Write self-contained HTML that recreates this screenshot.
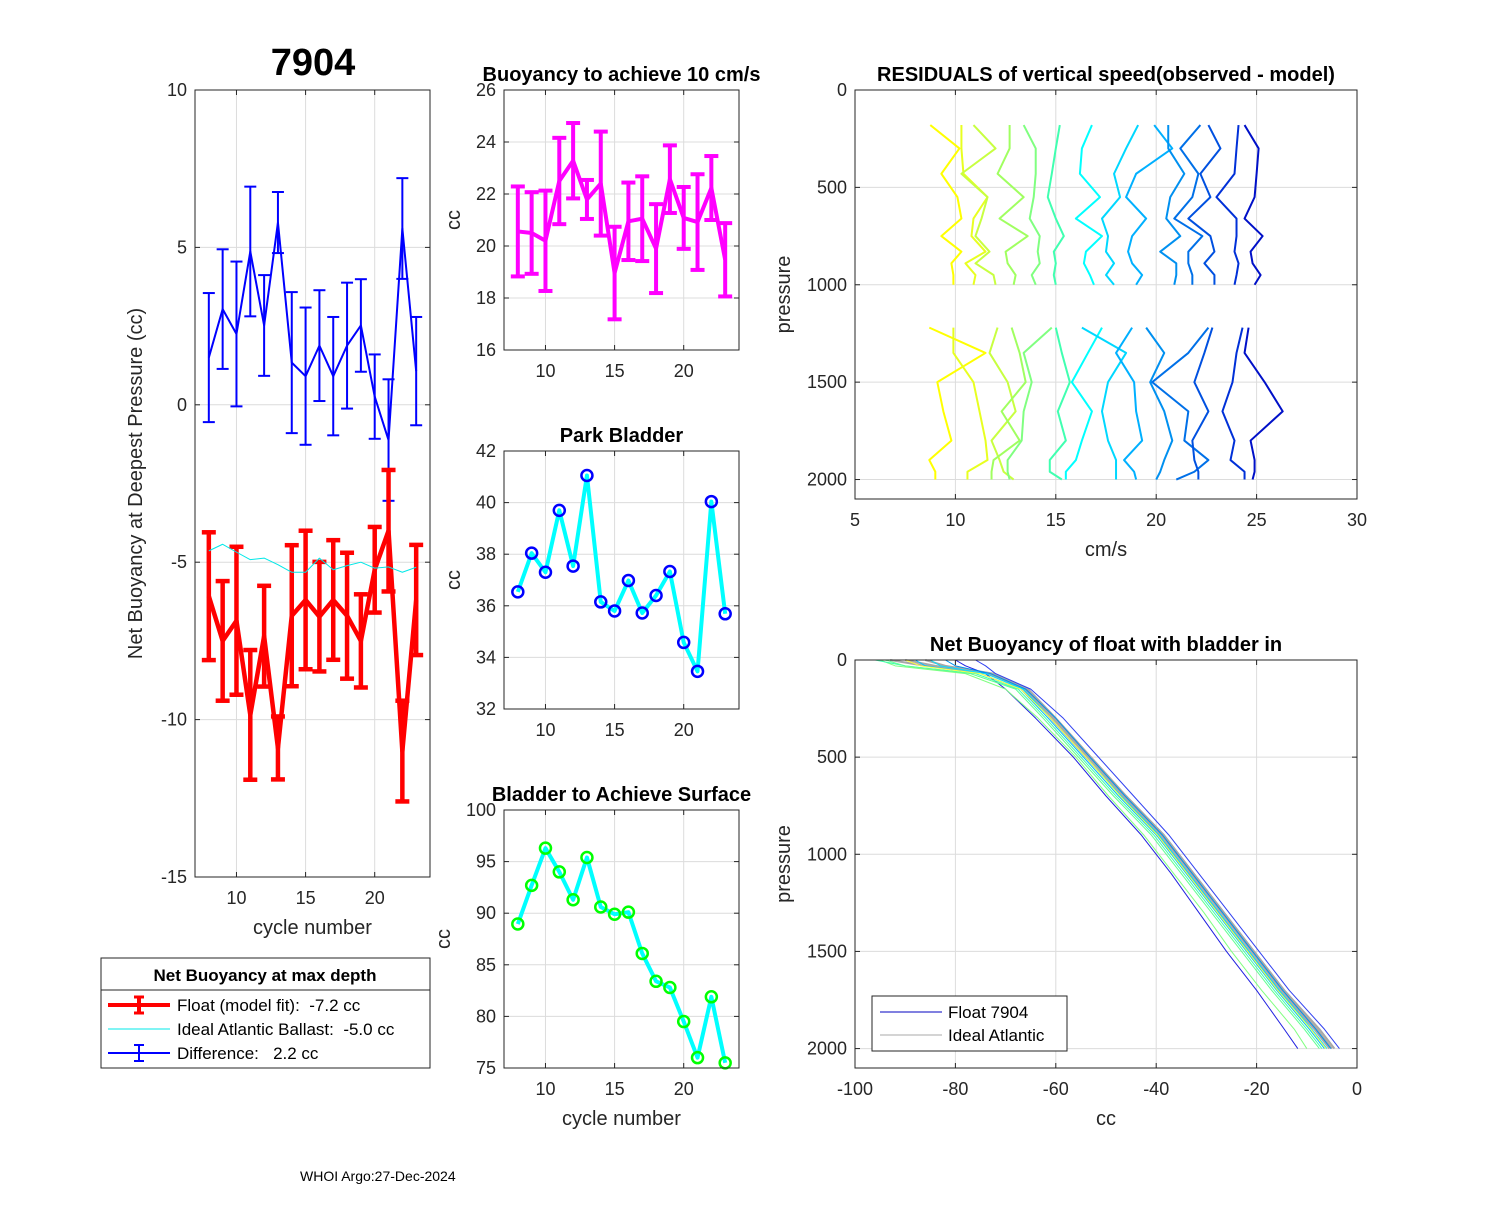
<!DOCTYPE html>
<html><head><meta charset="utf-8">
<style>
body{margin:0;background:#fff;}
svg text{font-family:"Liberation Sans",Arial,sans-serif;white-space:pre;}
</style></head>
<body>
<svg id="fig" width="1500" height="1200" viewBox="0 0 1500 1200" xmlns="http://www.w3.org/2000/svg">
<rect width="1500" height="1200" fill="#fff"/>
<text x="313" y="75" font-size="38" font-weight="bold" text-anchor="middle">7904</text>
<text x="300" y="1181" font-size="14">WHOI Argo:27-Dec-2024</text>
</svg>
<script>
// ---------- data ----------
const cycles=[8,9,10,11,12,13,14,15,16,17,18,19,20,21,22,23];
const diffVals=[1.5,3.04,2.25,4.87,2.52,5.79,1.34,0.91,1.88,0.91,1.88,2.52,0.26,-1.12,5.6,1.07];
const diffErr=[2.05,1.9,2.3,2.06,1.6,0.97,2.24,2.18,1.76,1.88,2.0,1.47,1.34,1.93,1.6,1.72];
const floatVals=[-6.08,-7.5,-6.86,-9.85,-7.35,-10.9,-6.7,-6.2,-6.73,-6.2,-6.7,-7.5,-5.24,-4.0,-11.0,-6.2];
const floatErr=[2.03,1.9,2.35,2.06,1.6,1.0,2.24,2.2,1.74,1.9,2.0,1.48,1.36,1.93,1.6,1.75];
const idealVals=[-4.64,-4.43,-4.68,-4.92,-4.87,-5.08,-5.32,-5.32,-4.87,-5.24,-5.11,-5.0,-5.19,-5.15,-5.32,-5.16];
const buoyVals=[20.56,20.5,20.2,22.5,23.28,21.79,22.4,18.96,20.95,21.05,19.9,22.57,21.08,20.92,22.23,19.47];
const buoyErr=[1.73,1.57,1.93,1.66,1.45,0.75,2.0,1.78,1.49,1.63,1.71,1.3,1.19,1.84,1.23,1.41];
const parkVals=[36.54,38.04,37.3,39.7,37.54,41.05,36.15,35.8,36.98,35.72,36.4,37.33,34.58,33.46,40.04,35.69];
const surfVals=[88.95,92.7,96.3,94.0,91.3,95.4,90.6,89.9,90.1,86.1,83.4,82.8,79.5,76.0,81.9,75.5];
// residual profiles
const resUpperP=[180,300,430,550,660,750,830,890,950,1000];
const resLowerP=[1220,1350,1500,1650,1800,1900,1960,2000];
const resUpper=[
[8.75,10.2,9.3,10.1,10.3,9.3,10.3,9.8,9.9,9.9],
[10.3,10.3,10.4,11.6,10.9,10.8,11.5,10.5,11.0,10.9],
[10.9,12.0,10.3,11.6,11.3,11.0,11.7,11.0,11.9,12.0],
[12.7,12.7,12.1,13.4,12.2,13.6,12.5,12.6,13.0,12.9],
[13.4,14.0,14.0,13.9,13.7,14.2,14.1,14.2,13.8,14.0],
[15.2,15.0,14.8,14.6,15.0,15.4,14.9,15.0,14.9,15.0],
[16.8,16.3,16.2,17.2,16.0,17.3,16.5,16.4,16.7,16.9],
[19.1,18.5,17.9,18.2,17.3,17.6,17.5,17.9,17.5,17.9],
[19.9,20.8,19.0,18.5,19.5,18.8,18.6,18.8,19.3,19.0],
[20.6,20.6,21.4,20.7,20.5,21.2,20.2,21.0,21.0,20.9],
[22.2,21.2,22.1,21.8,20.9,22.3,21.6,21.6,21.8,21.8],
[22.6,23.2,22.2,22.7,21.6,22.7,22.9,22.4,22.9,22.9],
[24.1,24.0,23.9,23.0,24.0,24.0,23.9,24.1,24.0,23.9],
[24.4,25.1,25.0,24.9,24.4,25.3,24.7,24.8,25.2,24.9]];
const resLower=[
[8.7,11.5,9.1,9.4,9.8,8.7,9.0,9.0],
[9.9,9.9,10.9,11.2,11.5,11.6,10.6,10.6],
[12.1,11.7,12.6,13.0,11.8,12.2,12.4,12.9],
[12.8,13.2,13.5,12.3,13.2,11.9,11.8,11.8],
[14.8,13.4,13.8,13.4,13.3,12.6,12.6,12.7],
[15.0,15.3,15.7,15.1,15.5,14.7,14.7,15.3],
[17.3,16.6,15.8,16.8,16.3,16.0,15.5,15.5],
[16.3,18.5,17.6,17.3,17.6,18.0,18.0,18.0],
[18.8,18.0,18.9,19.0,19.3,18.4,18.9,19.0],
[19.5,20.4,19.7,20.4,20.8,20.4,20.2,20.0],
[22.6,21.6,19.8,21.6,21.4,22.6,21.9,21.0],
[22.8,22.4,21.9,22.6,21.8,21.9,22.1,22.1],
[24.3,24.0,23.8,23.3,23.9,23.7,24.4,24.4],
[24.6,24.4,25.4,26.3,24.7,24.9,24.9,24.8]];
const resColors=['#ffff00','#e8ff20','#c8ff40','#a0ff60','#80ff80','#40ffb0','#00ffff','#00d8ff','#00b0ff','#0090f0','#0070e8','#0050e0','#0030d8','#0010c8'];
// net buoyancy profiles
const nbP=[0,30,70,150,300,500,700,900,1100,1300,1500,1700,1900,2000];
const nbIdeal=[
[-90,-84,-73,-66,-60.5,-53.5,-46.5,-39,-33,-27,-21,-15,-8,-5],
[-86,-82,-72.5,-65.5,-60,-53,-46,-38.5,-32.5,-26.5,-20.5,-14.5,-7.5,-4.5],
[-93,-86,-73.5,-66.5,-61,-54,-47,-39.5,-33.5,-27.5,-21.5,-15.5,-8.5,-5.5]];
const nbFloat=[
[-80,-78,-74,-70,-64,-56.5,-50,-43,-37,-31.5,-26,-20,-14.5,-11.8],
[-95,-92,-78,-70,-63.5,-56,-49.5,-42.5,-36.5,-30.5,-25,-19,-12.5,-10],
[-88,-86,-75,-67,-61.5,-54.5,-47.5,-40,-34,-28,-22,-16,-9.5,-6.5],
[-96,-90,-76,-67.5,-62,-55,-48,-40.5,-34.5,-28.5,-22.5,-16.5,-10,-7],
[-85,-83,-74,-66.5,-61,-54,-47,-39.5,-33.5,-27.5,-21.5,-15.5,-9,-6],
[-90,-87,-75,-67,-61,-54,-47.2,-39.8,-33.8,-27.8,-21.8,-15.8,-9.2,-6.2],
[-94,-90,-77,-68,-62.5,-55.5,-48.5,-41,-35,-29,-23,-17,-10.5,-7.5],
[-76,-74,-72,-65,-58.5,-51.5,-44.5,-37.5,-31.5,-25.5,-19.5,-13.5,-6.5,-3.5],
[-82,-80,-73,-66,-60,-53.2,-46.2,-38.8,-32.8,-26.8,-20.8,-14.8,-8.2,-5.2]];
const nbFloatColors=['#2020e0','#80ff80','#00c0ff','#40ffb0','#00e0ff','#ffff40','#60ff90','#3040f0','#0090f0'];
const cycleTicks=[10,15,20];

// ---------- helpers ----------
const NS='http://www.w3.org/2000/svg';
const svg=document.getElementById('fig');
function mk(tag,attrs,parent){const e=document.createElementNS(NS,tag);for(const k in attrs)e.setAttribute(k,attrs[k]);(parent||svg).appendChild(e);return e;}
function txt(s,attrs,parent){const e=mk('text',attrs,parent);e.textContent=s;return e;}
function axes(o){
  const g=mk('g',{});
  
  
  const sx=v=>o.x0+(v-o.xmin)/(o.xmax-o.xmin)*(o.x1-o.x0);
  const sy=o.yrev?(v=>o.y0+(v-o.ymin)/(o.ymax-o.ymin)*(o.y1-o.y0)):(v=>o.y1-(v-o.ymin)/(o.ymax-o.ymin)*(o.y1-o.y0));
  mk('rect',{x:o.x0,y:o.y0,width:o.x1-o.x0,height:o.y1-o.y0,fill:'#fff'},g);
  o.xticks.forEach(t=>{const x=sx(t);mk('line',{x1:x,x2:x,y1:o.y0,y2:o.y1,stroke:'#dcdcdc','stroke-width':1},g);});
  o.yticks.forEach(t=>{const y=sy(t);mk('line',{x1:o.x0,x2:o.x1,y1:y,y2:y,stroke:'#dcdcdc','stroke-width':1},g);});
  const plot=mk('g',{},g);
  const fr=mk('g',{},g);
  mk('rect',{x:o.x0,y:o.y0,width:o.x1-o.x0,height:o.y1-o.y0,fill:'none',stroke:'#262626','stroke-width':1},fr);
  o.xticks.forEach(t=>{const x=sx(t);
    mk('line',{x1:x,x2:x,y1:o.y1,y2:o.y1-5,stroke:'#262626'},fr);mk('line',{x1:x,x2:x,y1:o.y0,y2:o.y0+5,stroke:'#262626'},fr);
    const l=txt(String(t),{x:x,y:o.y1+27,'font-size':18,fill:'#262626','text-anchor':'middle'},fr);
    
    });
  o.yticks.forEach(t=>{const y=sy(t);
    mk('line',{x1:o.x0,x2:o.x0+5,y1:y,y2:y,stroke:'#262626'},fr);mk('line',{x1:o.x1,x2:o.x1-5,y1:y,y2:y,stroke:'#262626'},fr);
    const l=txt(String(t),{x:o.x0-8,y:y+6,'font-size':18,fill:'#262626','text-anchor':'end'},fr);
    
    });
  if(o.title){const t=txt(o.title,{x:(o.x0+o.x1)/2,y:o.y0-9,'font-size':20,'font-weight':'bold','text-anchor':'middle'},fr);
    
    }
  if(o.xlabel){const t=txt(o.xlabel,{x:(o.x0+o.x1)/2,y:o.y1+57,'font-size':20,fill:'#262626','text-anchor':'middle'},fr);
    
    }
  if(o.ylabel){const cx=o.ylx,cy=(o.y0+o.y1)/2;const t=txt(o.ylabel,{x:cx,y:cy,'font-size':20,fill:'#262626','text-anchor':'middle',transform:`rotate(-90 ${cx} ${cy})`},fr);
    
    }
  return {sx,sy,plot};
}
function poly(xs,ys,attrs,parent){return mk('polyline',Object.assign({points:xs.map((x,i)=>x+','+ys[i]).join(' '),fill:'none','stroke-linejoin':'round'},attrs),parent);}
function errbars(A,xs,vals,errs,color,w,cap,name){
  const g=mk('g',{},A.plot);
  
  
  xs.forEach((c,i)=>{const x=A.sx(c),yt=A.sy(vals[i]+errs[i]),yb=A.sy(vals[i]-errs[i]);
    mk('line',{x1:x,x2:x,y1:yt,y2:yb,stroke:color,'stroke-width':w},g);
    mk('line',{x1:x-cap,x2:x+cap,y1:yt,y2:yt,stroke:color,'stroke-width':w},g);
    mk('line',{x1:x-cap,x2:x+cap,y1:yb,y2:yb,stroke:color,'stroke-width':w},g);});
  poly(xs.map(A.sx),vals.map(A.sy),{stroke:color,'stroke-width':w},g);
  return g;
}

// ---------- left panel ----------
const L=axes({name:'net-buoyancy-chart',x0:195,x1:430,y0:90,y1:877,xmin:7,xmax:24,ymin:-15,ymax:10,xticks:cycleTicks,yticks:[-15,-10,-5,0,5,10],xlabel:'cycle number',ylabel:'Net Buoyancy at Deepest Pressure (cc)',ylx:142});
errbars(L,cycles,diffVals,diffErr,'#0000ff',2,6,'difference-series');
errbars(L,cycles,floatVals,floatErr,'#ff0000',4.5,7,'float-series');
const idl=poly(cycles.map(L.sx),idealVals.map(L.sy),{stroke:'#00e8e8','stroke-width':1},L.plot);



// ---------- middle panels ----------
const M1=axes({name:'buoyancy-10cms-chart',x0:504,x1:739,y0:90,y1:350,xmin:7,xmax:24,ymin:16,ymax:26,xticks:cycleTicks,yticks:[16,18,20,22,24,26],title:'Buoyancy to achieve 10 cm/s',ylabel:'cc',ylx:460});
errbars(M1,cycles,buoyVals,buoyErr,'#ff00ff',4,7,'buoyancy-series');

const M2=axes({name:'park-bladder-chart',x0:504,x1:739,y0:451,y1:709,xmin:7,xmax:24,ymin:32,ymax:42,xticks:cycleTicks,yticks:[32,34,36,38,40,42],title:'Park Bladder',ylabel:'cc',ylx:460});
{const l=poly(cycles.map(M2.sx),parkVals.map(M2.sy),{stroke:'#00ffff','stroke-width':4},M2.plot);


cycles.forEach((c,i)=>{const m=mk('circle',{cx:M2.sx(c),cy:M2.sy(parkVals[i]),r:5.5,fill:'none',stroke:'#0000ff','stroke-width':2.5},M2.plot);

});}

const M3=axes({name:'bladder-surface-chart',x0:504,x1:739,y0:810,y1:1068,xmin:7,xmax:24,ymin:75,ymax:100,xticks:cycleTicks,yticks:[75,80,85,90,95,100],title:'Bladder to Achieve Surface',xlabel:'cycle number',ylabel:'cc',ylx:450});
{const l=poly(cycles.map(M3.sx),surfVals.map(M3.sy),{stroke:'#00ffff','stroke-width':4},M3.plot);


cycles.forEach((c,i)=>{const m=mk('circle',{cx:M3.sx(c),cy:M3.sy(surfVals[i]),r:5.5,fill:'none',stroke:'#00ff00','stroke-width':2.5},M3.plot);

});}

// ---------- residuals ----------
const R=axes({name:'residuals-chart',x0:855,x1:1357,y0:90,y1:499,xmin:5,xmax:30,ymin:0,ymax:2100,yrev:true,xticks:[5,10,15,20,25,30],yticks:[0,500,1000,1500,2000],title:'RESIDUALS of vertical speed(observed - model)',xlabel:'cm/s',ylabel:'pressure',ylx:790});
resUpper.forEach((prof,i)=>{
  const a=poly(prof.map(R.sx),resUpperP.map(R.sy),{stroke:resColors[i],'stroke-width':2},R.plot);
  
  
  const b=poly(resLower[i].map(R.sx),resLowerP.map(R.sy),{stroke:resColors[i],'stroke-width':2},R.plot);
  
  
});

// ---------- net buoyancy profiles ----------
const B=axes({name:'bladder-in-buoyancy-chart',x0:855,x1:1357,y0:660,y1:1068,xmin:-100,xmax:0,ymin:0,ymax:2100,yrev:true,xticks:[-100,-80,-60,-40,-20,0],yticks:[0,500,1000,1500,2000],title:'Net Buoyancy of float with bladder in',xlabel:'cc',ylabel:'pressure',ylx:790});
nbIdeal.forEach(p=>{const l=poly(p.map(B.sx),nbP.map(B.sy),{stroke:'#a8a8a8','stroke-width':2},B.plot);

});
nbFloat.forEach((p,i)=>{const l=poly(p.map(B.sx),nbP.map(B.sy),{stroke:nbFloatColors[i],'stroke-width':1},B.plot);

});
</script>
<svg style="position:absolute;left:0;top:0" width="1500" height="1200" xmlns="http://www.w3.org/2000/svg">
<g>
<rect x="872" y="996" width="195" height="55" fill="#fff" stroke="#262626"/>
<line x1="880" y1="1012" x2="942" y2="1012" stroke="#0000c0" stroke-width="1"/>
<text x="948" y="1018" font-size="17">Float 7904</text>
<line x1="880" y1="1035" x2="942" y2="1035" stroke="#a8a8a8" stroke-width="1"/>
<text x="948" y="1041" font-size="17">Ideal Atlantic</text>
</g>
<g>
<rect x="101" y="958" width="329" height="110" fill="#fff" stroke="#262626"/>
<line x1="101" y1="990" x2="430" y2="990" stroke="#262626"/>
<text x="265" y="981" font-size="17" font-weight="bold" text-anchor="middle">Net Buoyancy at max depth</text>
<line x1="108" y1="1005" x2="170" y2="1005" stroke="#ff0000" stroke-width="4"/>
<line x1="139" y1="997" x2="139" y2="1013" stroke="#ff0000" stroke-width="4"/>
<line x1="134" y1="997" x2="144" y2="997" stroke="#ff0000" stroke-width="3"/>
<line x1="134" y1="1013" x2="144" y2="1013" stroke="#ff0000" stroke-width="3"/>
<text x="177" y="1011" font-size="17" style="white-space:pre">Float (model fit):  -7.2 cc</text>
<line x1="108" y1="1029" x2="170" y2="1029" stroke="#00e8e8" stroke-width="1"/>
<text x="177" y="1035" font-size="17" style="white-space:pre">Ideal Atlantic Ballast:  -5.0 cc</text>
<line x1="108" y1="1053" x2="170" y2="1053" stroke="#0000ff" stroke-width="2"/>
<line x1="139" y1="1045" x2="139" y2="1061" stroke="#0000ff" stroke-width="2"/>
<line x1="134" y1="1045" x2="144" y2="1045" stroke="#0000ff" stroke-width="2"/>
<line x1="134" y1="1061" x2="144" y2="1061" stroke="#0000ff" stroke-width="2"/>
<text x="177" y="1059" font-size="17" style="white-space:pre">Difference:   2.2 cc</text>
</g>
</svg>
</body></html>
